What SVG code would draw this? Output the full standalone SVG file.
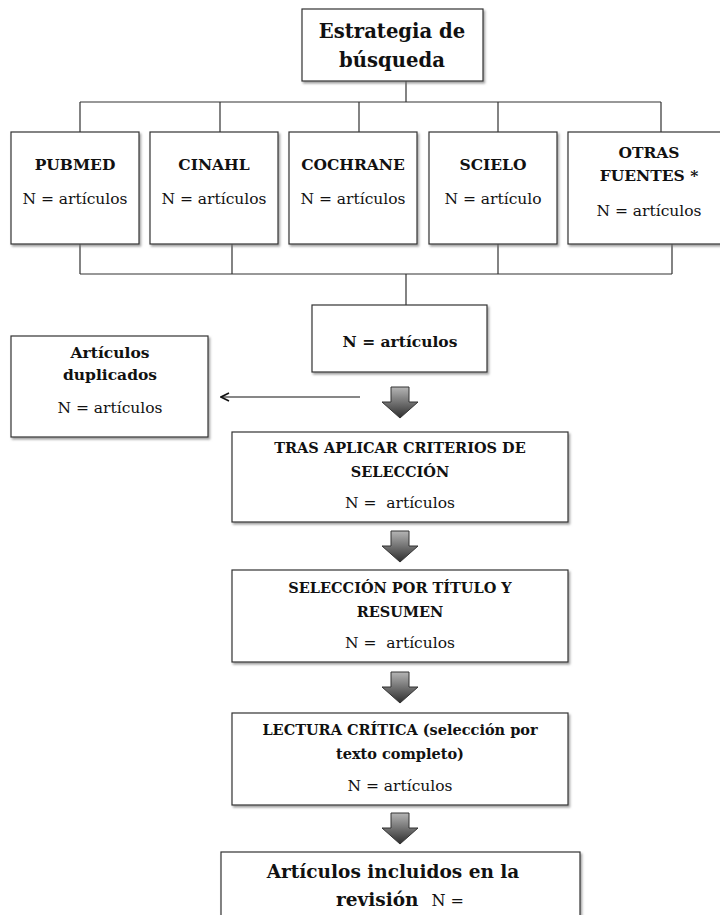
<svg xmlns="http://www.w3.org/2000/svg" width="720" height="915" viewBox="0 0 720 915">
<style>
.box{fill:#fff;stroke:#333;stroke-width:1.2;filter:url(#sh)}
.ln{fill:none;stroke:#333;stroke-width:1.2}
.b{font-family:"DejaVu Serif",serif;font-weight:bold;fill:#111;text-anchor:middle}
.r{font-family:"DejaVu Serif",serif;fill:#111;text-anchor:middle}
.fat{fill:url(#g);stroke:#333;stroke-width:1}
</style>
<defs>
<filter id="sh" x="-5%" y="-5%" width="110%" height="115%">
<feDropShadow dx="1.5" dy="2" stdDeviation="1" flood-color="#777" flood-opacity="0.7"/>
</filter>
<linearGradient id="g" x1="0" y1="0" x2="0" y2="1">
<stop offset="0" stop-color="#b5b5b5"/>
<stop offset="1" stop-color="#2e2e2e"/>
</linearGradient>
<marker id="open" viewBox="0 0 10 10" refX="9" refY="5" markerWidth="10" markerHeight="10" markerUnits="userSpaceOnUse" orient="auto">
<path d="M1,1 L9,5 L1,9" fill="none" stroke="#111" stroke-width="1.6"/>
</marker>
<path id="fatArrow" d="M-9,0 H9 V15 H18 L0,31 L-18,15 H-9 Z"/>
</defs>

<g id="connectors">
<path class="ln" d="M406,81 V102 M80,102 H661 M80,102 V132 M220,102 V132 M359,102 V132 M498,102 V132 M661,102 V132"/>
<path class="ln" d="M80,244 V274 M232,244 V274 M498,244 V274 M672,244 V274 M80,274 H672 M406,274 V305"/>
<line x1="360" y1="397" x2="221" y2="397" stroke="#111" stroke-width="1.2" marker-end="url(#open)"/>
<use href="#fatArrow" class="fat" x="400" y="387"/>
<use href="#fatArrow" class="fat" x="400" y="531"/>
<use href="#fatArrow" class="fat" x="400" y="672"/>
<use href="#fatArrow" class="fat" x="400" y="813"/>
</g>

<g id="n-estrategia">
<rect class="box" x="302" y="9" width="181" height="72"/>
<text class="b" x="392" y="38" font-size="19.6">Estrategia de</text>
<text class="b" x="392" y="67" font-size="19.6">búsqueda</text>
</g>

<g id="n-pubmed">
<rect class="box" x="11" y="132" width="128" height="112"/>
<text class="b" x="75" y="170" font-size="15.5">PUBMED</text>
<text class="r" x="75" y="204" font-size="15.5">N = artículos</text>
</g>

<g id="n-cinahl">
<rect class="box" x="150" y="132" width="128" height="112"/>
<text class="b" x="214" y="170" font-size="15.5">CINAHL</text>
<text class="r" x="214" y="204" font-size="15.5">N = artículos</text>
</g>

<g id="n-cochrane">
<rect class="box" x="289" y="132" width="128" height="112"/>
<text class="b" x="353" y="170" font-size="15.5">COCHRANE</text>
<text class="r" x="353" y="204" font-size="15.5">N = artículos</text>
</g>

<g id="n-scielo">
<rect class="box" x="429" y="132" width="128" height="112"/>
<text class="b" x="493" y="170" font-size="15.5">SCIELO</text>
<text class="r" x="493" y="204" font-size="15.5">N = artículo</text>
</g>

<g id="n-otras">
<rect class="box" x="568" y="132" width="160" height="112"/>
<text class="b" x="649" y="158" font-size="15.5">OTRAS</text>
<text class="b" x="649" y="181" font-size="15.5">FUENTES *</text>
<text class="r" x="649" y="216" font-size="15.5">N = artículos</text>
</g>

<g id="n-total">
<rect class="box" x="312" y="305" width="175" height="67"/>
<text class="b" x="400" y="347" font-size="15.5">N = artículos</text>
</g>

<g id="n-duplicados">
<rect class="box" x="11" y="336" width="197" height="101"/>
<text class="b" x="110" y="358" font-size="15.5">Artículos</text>
<text class="b" x="110" y="380" font-size="15.5">duplicados</text>
<text class="r" x="110" y="413" font-size="15.5">N = artículos</text>
</g>

<g id="n-criterios">
<rect class="box" x="232" y="432" width="336" height="90"/>
<text class="b" x="400" y="453" font-size="14.5">TRAS APLICAR CRITERIOS DE</text>
<text class="b" x="400" y="477" font-size="14.5">SELECCIÓN</text>
<text class="r" x="400" y="508" font-size="15.5" xml:space="preserve">N =  artículos</text>
</g>

<g id="n-titulo">
<rect class="box" x="232" y="570" width="336" height="92"/>
<text class="b" x="400" y="593" font-size="14.5">SELECCIÓN POR TÍTULO Y</text>
<text class="b" x="400" y="617" font-size="14.5">RESUMEN</text>
<text class="r" x="400" y="648" font-size="15.5" xml:space="preserve">N =  artículos</text>
</g>

<g id="n-lectura">
<rect class="box" x="232" y="713" width="336" height="92"/>
<text class="b" x="400" y="735" font-size="14.5">LECTURA CRÍTICA (selección por</text>
<text class="b" x="400" y="759" font-size="14.5">texto completo)</text>
<text class="r" x="400" y="791" font-size="15.5">N = artículos</text>
</g>

<g id="n-incluidos">
<rect class="box" x="221" y="852" width="359" height="80"/>
<text class="b" x="393" y="878" font-size="18.5">Artículos incluidos en la</text>
<text class="b" x="400" y="906" font-size="18.5" xml:space="preserve">revisión  <tspan class="r" font-weight="normal" font-size="16">N =</tspan></text>
</g>
</svg>
